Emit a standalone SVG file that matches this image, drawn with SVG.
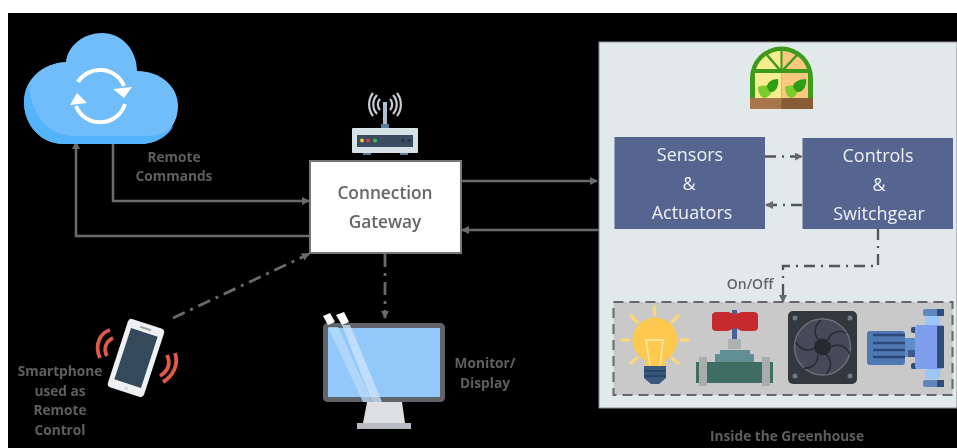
<svg xmlns="http://www.w3.org/2000/svg" width="957" height="448" viewBox="0 0 957 448">
<style>
text{font-family:"Open Sans","Liberation Sans",sans-serif;text-anchor:middle}
.lab{font-size:13.700px;font-weight:700;fill:#5f5f5f}
.gw{font-size:17.300px;font-weight:600;fill:#666}
.blk{font-size:18px;fill:#eef0f5}
.c{fill:none;stroke:#6a6a6a;stroke-width:2.500}
.dd{fill:none;stroke:#6a6a6a;stroke-width:2.800;stroke-dasharray:13 6 3 6}
.ddk{fill:none;stroke:#555;stroke-width:2.300;stroke-dasharray:11 6 2 6}
</style>
<defs>
<marker id="a" viewBox="0 0 8 8" refX="7" refY="4" markerWidth="8" markerHeight="8" markerUnits="userSpaceOnUse" orient="auto"><path d="M0 0L8 4L0 8Z" fill="#6a6a6a"/></marker>
<filter id="soft" x="0" y="0" width="100%" height="100%"><feGaussianBlur stdDeviation="0.55"/></filter>
</defs>
<rect width="957" height="448" fill="#fff"/>
<g filter="url(#soft)">
<rect x="8" y="13" width="949" height="435" fill="#000"/>
<g id="greenhouse-panel"><rect x="599" y="42" width="358" height="366" fill="#e1e9ea" stroke="#8a9090" stroke-width="1"/></g>

<g id="connectors">
<path class="c" d="M113 144V201H309" marker-end="url(#a)"/>
<path class="c" d="M310 236H76V142" marker-end="url(#a)"/>
<path class="c" d="M462 181H597" marker-end="url(#a)"/>
<path class="c" d="M599 230H462" marker-end="url(#a)"/>
<path class="dd" d="M173 318L309 254" marker-end="url(#a)"/>
<path class="dd" d="M385 254V318" marker-end="url(#a)"/>
<path class="ddk" d="M765 156.500H802" marker-end="url(#a)"/>
<path class="ddk" d="M802 205H766" marker-end="url(#a)"/>
<path class="ddk" d="M878 229V266H783V302" marker-end="url(#a)"/>
</g>

<g id="cloud">
<path d="M64 144C40 144 24 124 24 102C24 80 42 63 66 62C68 45 84 33 102 33C122 33 137 50 137 71C160 71 178 86 178 106C178 128 160 144 140 144Z" fill="#6fbdf9"/>
<path d="M24 102C24 124 40 144 64 144H140C155 144 168 137 174 125C168 132 158 136 145 136H72C48 134 32 118 29 85C26 90 24 96 24 102Z" fill="#52b3fb"/>
<path d="M78 82A26 26 0 0 1 124 86M125 104A26 26 0 0 1 76 106" fill="none" stroke="#fff" stroke-width="4"/>
<path d="M132 87L124 98L113 89Z" fill="#fff"/><path d="M70 105L77 93L87 103Z" fill="#fff"/>
</g>
<text class="lab" x="174" y="162">Remote</text><text class="lab" x="174" y="181">Commands</text>

<g id="router">
<path d="M380 99A8 8 0 0 0 380 110M377 95A14 14 0 0 0 377 114M373 93A19 19 0 0 0 373 116M390 99A8 8 0 0 1 390 110M393 95A14 14 0 0 1 393 114M397 93A19 19 0 0 1 397 116" fill="none" stroke="#c5ccd0" stroke-width="2.200"/>
<rect x="383" y="102" width="4" height="24" fill="#a8c0cf"/><rect x="381" y="124" width="8" height="5" fill="#5a7c96"/>
<rect x="352" y="128" width="66" height="25" rx="1" fill="#d6e1e8"/>
<rect x="357" y="135" width="56" height="12" fill="#3a4b60"/>
<circle cx="362" cy="140.500" r="2" fill="#f4c542"/><circle cx="368" cy="140.500" r="2" fill="#d6404a"/><circle cx="375" cy="140.500" r="2" fill="#3fb95a"/>
<circle cx="403" cy="140.500" r="1.500" fill="#1e3350"/><circle cx="409" cy="140.500" r="1.500" fill="#1e3350"/>
<rect x="363" y="153" width="8" height="2" fill="#5a7c96"/><rect x="400" y="153" width="8" height="2" fill="#5a7c96"/>
</g>

<g id="gateway">
<rect x="310" y="161" width="151" height="92" fill="#fff" stroke="#777" stroke-width="2"/>
<text class="gw" x="385" y="199">Connection</text><text class="gw" x="385" y="228">Gateway</text>
</g>

<g id="phone">
<g transform="rotate(18 136 358)">
<rect x="117" y="322" width="38" height="72" rx="4" fill="#eef1f3"/>
<rect x="122" y="331" width="28" height="54" fill="#36495c"/>
<rect x="130" y="326" width="12" height="2" rx="1" fill="#9aa4ad"/>
<circle cx="136" cy="390" r="2" fill="#d8dde0"/>
</g>
<path d="M110 330C100 333 94 345 100 358M113 338C106 341 103 349 107 356" fill="none" stroke="#e05a4b" stroke-width="3.800"/>
<path d="M175 353C179 365 173 376 163 382M167 355C171 364 168 371 160 376" fill="none" stroke="#e05a4b" stroke-width="3.800"/>
</g>
<g id="smartphone-label"><text class="lab" x="60" y="376">Smartphone</text><text class="lab" x="60" y="396">used as</text><text class="lab" x="60" y="415">Remote</text><text class="lab" x="60" y="435">Control</text></g>

<g id="monitor">
<path d="M367 402H402L405 423H363Z" fill="#dfe0e3"/><rect x="357" y="423" width="54" height="6" fill="#b8bbbf"/>
<rect x="325.500" y="325.500" width="117" height="74" rx="2" fill="#93c8fb" stroke="#60646b" stroke-width="5"/>
<path d="M328 327H338L372 402H363Z" fill="#b9dcfa" opacity=".75"/>
<path d="M342 325H350L382 402H372Z" fill="#cfe6fb" opacity=".75"/>
<path d="M323 316L330 313L335 322L328 325Z" fill="#fff"/><path d="M336 315L344 312L349 322L342 325Z" fill="#fff"/>
</g>
<text class="lab" x="485" y="368">Monitor/</text><text class="lab" x="485" y="388">Display</text>

<g id="greenhouse-icon">
<path d="M750 78A31.500 31.500 0 0 1 813 78V109H750Z" fill="#3d9b1c"/>
<path d="M756 69A27 27 0 0 1 781 51V69Z" fill="#f7ec8f"/><path d="M782 51A27 27 0 0 1 807 69H782Z" fill="#fbc880"/>
<rect x="755" y="73" width="26.500" height="26" fill="#f7ec8f"/><rect x="781.500" y="73" width="26.500" height="26" fill="#fbc880"/>
<path d="M767 55L780 70M797 55L783 70" stroke="#3d9b1c" stroke-width="2.500"/><path d="M781.500 47V72" stroke="#3d9b1c" stroke-width="2"/>
<path d="M758 87C761 85 768 85 772 87C773 92 769 98 764 98C760 97 758 92 758 87Z" fill="#7ecb2e"/>
<path d="M767 87C767 82 772 79 778 79C779 84 777 92 771 92C769 92 768 89 767 87Z" fill="#2f9e12"/>
<path d="M785 87C788 85 795 85 798 87C799 92 795 98 791 98C787 97 785 92 785 87Z" fill="#7ecb2e"/>
<path d="M793 87C793 82 799 79 806 79C807 84 804 92 798 92C796 92 794 89 793 87Z" fill="#2f9e12"/>
<rect x="750" y="98" width="31.500" height="11" fill="#a87648"/><rect x="781.500" y="98" width="31.500" height="11" fill="#8a5c34"/>
</g>

<g id="sensors"><rect x="614.500" y="137" width="150.500" height="92" fill="#56658f"/>
<text class="blk" x="690" y="161">Sensors</text><text class="blk" x="689" y="190">&amp;</text><text class="blk" x="692" y="219">Actuators</text></g>
<g id="controls"><rect x="802.500" y="138" width="150.500" height="91" fill="#56658f"/>
<text class="blk" x="878" y="162">Controls</text><text class="blk" x="879" y="191">&amp;</text><text class="blk" x="879" y="220">Switchgear</text></g>

<text class="gw" style="font-size:14px;font-weight:600" x="750" y="289">On/Off</text>

<g id="devices">
<rect x="613.500" y="302" width="339" height="93" fill="#c9c9c9" stroke="#666" stroke-width="2" stroke-dasharray="10 6"/>
<g id="bulb">
<circle cx="655" cy="340" r="22.500" fill="#fdca4f"/><rect x="645" y="355" width="20" height="11" fill="#fdca4f"/>
<path d="M650 366L646 340H663L660 366" fill="none" stroke="#ffe9a8" stroke-width="1.500"/>
<path d="M654.500 307V315M631 316L637 322M678 316L672 322M622 340H629M681 340H688M631 363L637 358M678 363L672 358" stroke="#f7d87c" stroke-width="3.500" stroke-linecap="round"/>
<path d="M644 366H666V378L659 384H651L644 378Z" fill="#37587e"/><path d="M644 371H666M644 376H666" stroke="#1f3048" stroke-width="1"/>
</g>
<g id="valve">
<rect x="732" y="310" width="5" height="30" fill="#4a5f95"/><rect x="728" y="339" width="13" height="10" fill="#aeb1b1"/>
<path d="M712 316C712 313 714 312 717 312H727C731 312 732 314 735 314C738 314 739 312 743 312H753C756 312 758 313 758 316V327C758 330 756 331 753 331H743C739 331 738 328 735 328C732 328 731 331 727 331H717C714 331 712 330 712 327Z" fill="#c52a2e"/>
<path d="M715 362V354H720V350H750V354H754V362Z" fill="#5f8f92"/>
<rect x="696" y="362" width="77" height="21" fill="#3f6d62"/>
<rect x="699" y="357" width="8" height="29" fill="#a9acac"/><rect x="762" y="357" width="8" height="29" fill="#a9acac"/>
</g>
<g id="fan">
<rect x="788" y="311" width="69" height="73" rx="5" fill="#33393d"/>
<circle cx="822.500" cy="347" r="28" fill="#474a58" stroke="#6a6e74" stroke-width="1.500"/>
<circle cx="822.500" cy="347" r="8.500" fill="#26292e"/>
<path d="M828 340C830 333 838 329 846 333M830 347C838 343 846 346 850 354M826 354C832 360 832 368 826 374M818 355C818 363 812 369 804 368M814 348C808 352 800 350 796 342M818 339C813 333 815 325 821 320" fill="none" stroke="#2b2e38" stroke-width="1.800"/>
<circle cx="795" cy="318" r="2.500" fill="#72777a"/><circle cx="850" cy="318" r="2.500" fill="#72777a"/><circle cx="795" cy="376" r="2.500" fill="#72777a"/><circle cx="850" cy="376" r="2.500" fill="#72777a"/>
</g>
<g id="pump">
<rect x="867" y="331" width="38" height="34" rx="3" fill="#4f79b3"/>
<path d="M873 335H905M873 343H905M873 350H905M873 357H905" stroke="#2d4a78" stroke-width="2.500"/>
<rect x="905" y="338" width="12" height="19" fill="#5f8ccb"/><rect x="908" y="350" width="9" height="7" fill="#3a5a8e"/>
<rect x="911" y="327" width="6" height="6" rx="2" fill="#2f4d7a"/><rect x="911" y="363" width="6" height="6" rx="2" fill="#2f4d7a"/>
<rect x="925" y="315" width="15" height="64" fill="#9cc6f8"/>
<rect x="915" y="325" width="29" height="44" rx="3" fill="#7f9fec"/><rect x="937" y="326" width="7" height="42" fill="#2f4d7a"/>
<rect x="923" y="309" width="21" height="7" rx="2" fill="#5f86bd"/><rect x="937" y="309" width="7" height="7" fill="#2f4d7a"/>
<rect x="923" y="380" width="21" height="7" rx="2" fill="#5f86bd"/><rect x="937" y="380" width="7" height="7" fill="#2f4d7a"/>
</g>
</g>
<text class="lab" x="787" y="441">Inside the Greenhouse</text>
</g>
</svg>
